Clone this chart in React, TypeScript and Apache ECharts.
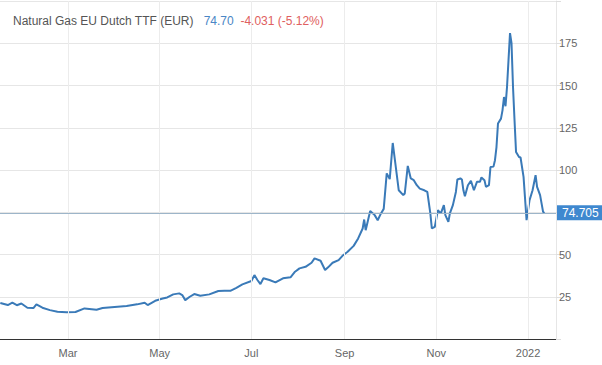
import React, { useEffect, useRef } from "react";
import * as echarts from "echarts";

const titleName = "Natural Gas EU Dutch TTF (EUR)";
const lastPriceText = "74.70";
const changeText = "-4.031 (-5.12%)";
const lastValue = 74.705;

const dates = [
  "2021-01-15", "2021-01-20", "2021-01-23", "2021-01-26", "2021-01-29", "2021-02-02", "2021-02-06", "2021-02-08",
  "2021-02-12", "2021-02-17", "2021-02-22", "2021-02-28", "2021-03-06", "2021-03-12", "2021-03-20", "2021-03-24",
  "2021-04-03", "2021-04-09", "2021-04-16", "2021-04-21", "2021-04-23", "2021-04-28", "2021-05-03", "2021-05-06",
  "2021-05-10", "2021-05-14", "2021-05-16", "2021-05-18", "2021-05-21", "2021-05-24", "2021-05-28", "2021-06-03",
  "2021-06-09", "2021-06-13", "2021-06-17", "2021-06-21", "2021-06-25", "2021-07-01", "2021-07-03", "2021-07-05",
  "2021-07-07", "2021-07-09", "2021-07-13", "2021-07-17", "2021-07-22", "2021-07-27", "2021-07-30", "2021-08-02",
  "2021-08-06", "2021-08-10", "2021-08-12", "2021-08-16", "2021-08-19", "2021-08-21", "2021-08-24", "2021-08-28",
  "2021-08-31", "2021-09-03", "2021-09-07", "2021-09-10", "2021-09-13", "2021-09-14", "2021-09-15", "2021-09-18",
  "2021-09-21", "2021-09-23", "2021-09-25", "2021-09-27", "2021-09-29", "2021-10-01", "2021-10-03", "2021-10-07",
  "2021-10-10", "2021-10-11", "2021-10-13", "2021-10-15", "2021-10-17", "2021-10-19", "2021-10-21", "2021-10-24",
  "2021-10-26", "2021-10-28", "2021-10-29", "2021-10-31", "2021-11-02", "2021-11-04", "2021-11-06", "2021-11-07",
  "2021-11-09", "2021-11-10", "2021-11-12", "2021-11-14", "2021-11-15", "2021-11-17", "2021-11-18", "2021-11-19",
  "2021-11-20", "2021-11-22", "2021-11-24", "2021-11-26", "2021-11-28", "2021-11-30", "2021-12-01", "2021-12-03",
  "2021-12-04", "2021-12-06", "2021-12-07", "2021-12-09", "2021-12-10", "2021-12-11", "2021-12-12", "2021-12-14",
  "2021-12-15", "2021-12-16", "2021-12-17", "2021-12-18", "2021-12-19", "2021-12-20", "2021-12-21", "2021-12-22",
  "2021-12-23", "2021-12-24", "2021-12-26", "2021-12-27", "2021-12-29", "2021-12-31", "2022-01-02", "2022-01-04",
  "2022-01-06", "2022-01-07", "2022-01-09", "2022-01-11", "2022-01-12",
];

const prices = [
  21.3, 20.1, 21.5, 20.0, 21.0, 18.5, 18.3, 20.5,
  18.5, 17.1, 16.1, 15.8, 16.0, 18.1, 17.3, 18.3,
  19.1, 19.5, 20.5, 21.5, 20.1, 22.6, 24.0, 24.6,
  26.4, 27.0, 26.0, 23.0, 25.0, 26.6, 25.6, 26.4,
  28.4, 28.5, 28.5, 30.3, 32.3, 34.3, 37.8, 34.9,
  32.5, 35.9, 34.9, 33.5, 35.9, 36.5, 39.8, 41.8,
  42.7, 45.1, 47.7, 46.3, 40.8, 42.4, 45.1, 46.7,
  49.6, 51.6, 55.1, 59.5, 65.4, 70.7, 64.4, 75.8,
  73.3, 70.3, 74.0, 77.0, 98.0, 94.6, 116.0, 88.0,
  85.1, 86.1, 102.4, 95.0, 94.0, 91.0, 89.0, 88.0,
  87.0, 74.3, 65.4, 66.4, 76.2, 74.3, 79.2, 73.3,
  69.3, 74.3, 79.2, 87.0, 94.4, 95.0, 94.4, 88.0,
  84.5, 91.0, 93.6, 88.0, 93.0, 93.0, 95.6, 94.0,
  90.0, 91.0, 101.8, 102.0, 105.8, 113.6, 127.5, 130.4,
  135.3, 143.2, 137.7, 149.0, 165.0, 181.0, 175.0, 149.0,
  129.4, 110.7, 107.7, 107.4, 95.9, 70.3, 82.2, 88.0,
  96.9, 90.0, 85.1, 75.2, 74.7,
];

const xTickDates = ["2021-03-01", "2021-05-01", "2021-07-01", "2021-09-01", "2021-11-01", "2022-01-01"];
const xTickLabels = ["Mar", "May", "Jul", "Sep", "Nov", "2022"];
const xMin = "2021-01-14T19:00:00Z";
const xMax = "2022-01-19T14:00:00Z";
const hiddenYLabels = [0, 75, 200];

const FONT = "'Liberation Sans', Arial, sans-serif";

const ts = (d: string) => Date.parse(d.length === 10 ? d + "T00:00:00Z" : d);

export default function App() {
  const ref = useRef<HTMLDivElement>(null);

  useEffect(() => {
    if (!ref.current) return;
    const chart = echarts.init(ref.current, undefined, { renderer: "svg" });
    const tickTs = xTickDates.map(ts);
    const data = dates.map((d, i) => [ts(d), prices[i]]);

    chart.setOption({
      animation: false,
      backgroundColor: "#ffffff",
      title: {
        left: 13,
        top: 15,
        padding: 0,
        text: `{a|${titleName}}   {b|${lastPriceText}}  {c|${changeText}}`,
        textStyle: {
          fontFamily: FONT,
          fontSize: 12,
          fontWeight: "normal",
          rich: {
            a: { color: "#555555", fontSize: 12, fontFamily: FONT },
            b: { color: "#4a86c5", fontSize: 12, fontFamily: FONT },
            c: { color: "#e06060", fontSize: 12, fontFamily: FONT },
          },
        },
      },
      grid: { left: 0, right: 46, top: 1, bottom: 26, containLabel: false },
      xAxis: {
        type: "value",
        min: ts(xMin),
        max: ts(xMax),
        axisLine: { show: true, lineStyle: { color: "#333333", width: 1 } },
        axisTick: { show: false, customValues: tickTs },
        splitLine: { show: false },
        axisLabel: {
          customValues: tickTs,
          color: "#666666",
          fontSize: 11,
          fontFamily: FONT,
          margin: 8,
          formatter: (v: number) => {
            const idx = tickTs.findIndex((t) => Math.abs(t - v) < 86400000);
            return idx >= 0 ? xTickLabels[idx] : "";
          },
        },
      },
      yAxis: {
        type: "value",
        position: "right",
        min: 0,
        max: 200,
        interval: 25,
        axisLine: { show: true, lineStyle: { color: "#e6e6e6" } },
        axisTick: { show: true, length: 5, lineStyle: { color: "#dddddd" } },
        splitLine: { show: true, lineStyle: { color: "#e6e6e6", width: 1 } },
        axisLabel: {
          color: "#666666",
          fontSize: 11,
          fontFamily: FONT,
          margin: 3,
          formatter: (v: number) => (hiddenYLabels.includes(v) ? "" : String(v)),
        },
      },
      series: [
        {
          type: "line",
          data: tickTs.map((t) => [t, null]),
          symbol: "none",
          silent: true,
          lineStyle: { opacity: 0 },
          markLine: {
            silent: true,
            symbol: ["none", "none"],
            label: { show: false },
            lineStyle: { color: "#ececec", width: 1, type: "solid" },
            data: tickTs.map((t) => ({ xAxis: t })),
          },
          z: 1,
        },
        {
          type: "line",
          data,
          showSymbol: false,
          symbol: "none",
          lineStyle: { color: "#3a7ab8", width: 2 },
          z: 3,
          markLine: {
            silent: true,
            symbol: ["none", "none"],
            lineStyle: { color: "#9db5c9", width: 1, type: "solid" },
            label: {
              show: true,
              position: "end",
              distance: 1,
              formatter: () => lastValue.toFixed(3),
              color: "#ffffff",
              backgroundColor: "#3f88cf",
              padding: [2, 5, 1, 5],
              fontSize: 12,
              fontFamily: FONT,
            },
            data: [{ yAxis: lastValue }],
          },
        },
      ],
    });

    return () => chart.dispose();
  }, []);

  return <div ref={ref} style={{ width: 602, height: 365, position: "absolute", left: 0, top: 0 }} />;
}
